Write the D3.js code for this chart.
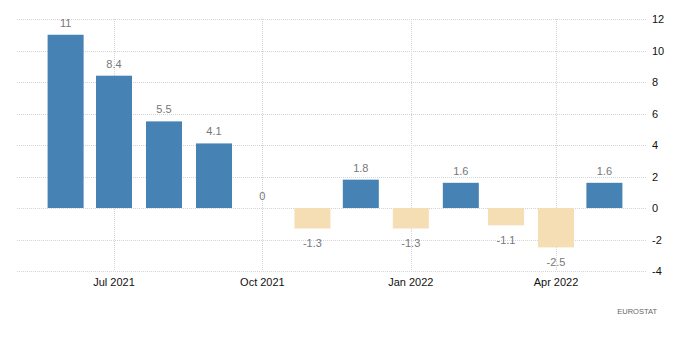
<!DOCTYPE html>
<html><head><meta charset="utf-8">
<script src="https://cdn.jsdelivr.net/npm/d3@7"></script>
<style>body{margin:0;background:#fff;}svg{display:block;font-family:"Liberation Sans",Arial,sans-serif;}</style>
</head><body>
<svg id="c" width="700" height="357"></svg>
<script>
const months = ["2021-06","2021-07","2021-08","2021-09","2021-10","2021-11","2021-12","2022-01","2022-02","2022-03","2022-04","2022-05"];
const values = [11, 8.4, 5.5, 4.1, 0, -1.3, 1.8, -1.3, 1.6, -1.1, -2.5, 1.6];
const xTickLabels = ["Jul 2021","Oct 2021","Jan 2022","Apr 2022"];
const xTickDates = ["2021-07","2021-10","2022-01","2022-04"];
const yTicks = [-4,-2,0,2,4,6,8,10,12];
const source = "EUROSTAT";

const parse = d3.timeParse("%Y-%m");
const svg = d3.select("#c");
const x = d3.scaleTime().domain([parse("2021-07"), parse("2022-04")]).range([114, 556]);
const y = d3.scaleLinear().domain([-4, 12]).range([271, 19]);
const left = 17, right = 647, barW = 36;

// horizontal grid
svg.append("g").selectAll("line").data(yTicks).join("line")
  .attr("x1", left).attr("x2", right)
  .attr("y1", d => Math.round(y(d)) + 0.5).attr("y2", d => Math.round(y(d)) + 0.5)
  .attr("stroke", "#d4d4d4").attr("stroke-dasharray", "1,1");
// vertical grid
svg.append("g").selectAll("line").data(xTickDates).join("line")
  .attr("x1", d => Math.round(x(parse(d))) + 0.5).attr("x2", d => Math.round(x(parse(d))) + 0.5)
  .attr("y1", y(12)).attr("y2", y(-4))
  .attr("stroke", "#d4d4d4").attr("stroke-dasharray", "1,1");

// bars
svg.append("g").selectAll("rect").data(values).join("rect")
  .attr("x", (d, i) => x(parse(months[i])) - barW / 2)
  .attr("width", barW)
  .attr("y", d => y(Math.max(0, d)))
  .attr("height", d => Math.abs(y(d) - y(0)))
  .attr("fill", d => d >= 0 ? "#4682b4" : "#f5deb3");

// value labels
svg.append("g").selectAll("text").data(values).join("text")
  .attr("x", (d, i) => x(parse(months[i])))
  .attr("y", d => d >= 0 ? y(d) - 8 : y(d) + 19)
  .attr("text-anchor", "middle")
  .attr("font-size", 11).attr("fill", "#777")
  .text(d => d);

// x axis labels
svg.append("g").selectAll("text").data(xTickDates).join("text")
  .attr("x", d => x(parse(d)))
  .attr("y", 286)
  .attr("text-anchor", "middle")
  .attr("font-size", 11).attr("fill", "#111")
  .text((d, i) => xTickLabels[i]);

// y axis labels
svg.append("g").selectAll("text").data(yTicks).join("text")
  .attr("x", 652)
  .attr("y", d => y(d) + 4)
  .attr("font-size", 11).attr("fill", "#111")
  .text(d => d);

svg.append("text").attr("x", 657).attr("y", 314).attr("text-anchor", "end")
  .attr("font-size", 7.5).attr("fill", "#666").text(source);
</script>
</body></html>
